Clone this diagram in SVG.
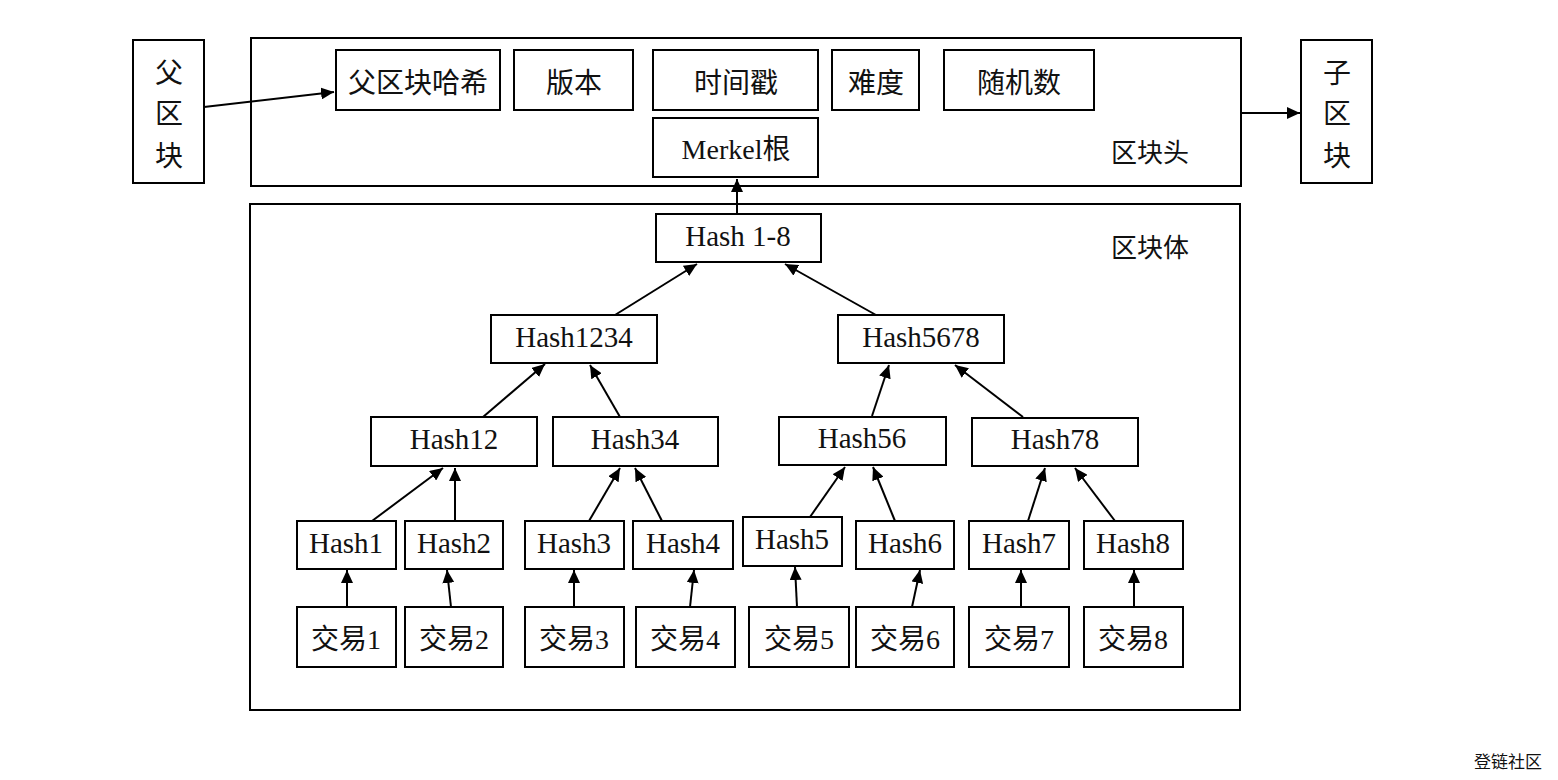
<svg xmlns="http://www.w3.org/2000/svg" width="1558" height="780" viewBox="0 0 1558 780">
<style>
rect{fill:#fff;stroke:#000;stroke-width:2}
text{font-family:"Liberation Serif","Noto Sans CJK SC",serif;font-size:28px;fill:#111;text-anchor:middle;dominant-baseline:central}
.h{font-size:29px}
.lbl{font-size:26px}
.wm{font-size:17px;font-family:"Noto Sans CJK SC",sans-serif}
#connectors line{stroke:#000;stroke-width:2;marker-end:url(#ah)}
</style>
<defs>
<marker id="ah" markerUnits="userSpaceOnUse" markerWidth="14" markerHeight="12" refX="13" refY="6" orient="auto">
<path d="M0,0 L13,6 L0,12 Z" fill="#000"/>
</marker>
</defs>
<rect x="0" y="0" width="1558" height="780" style="stroke:none;fill:#fff"/>
<g id="header"><rect x="251" y="38" width="990" height="148"/><text class="lbl" x="1150" y="153">区块头</text></g>
<g id="body"><rect x="250" y="204" width="990" height="506"/><text class="lbl" x="1150" y="248">区块体</text></g>
<g id="parent"><rect x="133" y="40" width="71" height="143"/><text x="169" y="73">父</text><text x="169" y="114">区</text><text x="169" y="156">块</text></g>
<g id="child"><rect x="1301" y="40" width="71" height="143"/><text x="1337" y="73">子</text><text x="1337" y="114">区</text><text x="1337" y="156">块</text></g>
<g id="prevhash"><rect x="336" y="50" width="164" height="60"/><text x="418" y="83">父区块哈希</text></g>
<g id="version"><rect x="514" y="50" width="119" height="60"/><text x="574" y="83">版本</text></g>
<g id="timestamp"><rect x="653" y="50" width="165" height="60"/><text x="736" y="83">时间戳</text></g>
<g id="difficulty"><rect x="832" y="50" width="87" height="60"/><text x="876" y="83">难度</text></g>
<g id="nonce"><rect x="944" y="50" width="150" height="60"/><text x="1019" y="83">随机数</text></g>
<g id="merkle"><rect x="653" y="118" width="165" height="59"/><text x="736" y="149">Merkel根</text></g>
<g id="h18"><rect x="656" y="214" width="165" height="48"/><text class="h" x="738" y="236">Hash 1-8</text></g>
<g id="h1234"><rect x="491" y="315" width="166" height="48"/><text class="h" x="574" y="337">Hash1234</text></g>
<g id="h5678"><rect x="838" y="315" width="166" height="48"/><text class="h" x="921" y="337">Hash5678</text></g>
<g id="h12"><rect x="371" y="417" width="166" height="49"/><text class="h" x="454" y="439">Hash12</text></g>
<g id="h34"><rect x="553" y="417" width="165" height="49"/><text class="h" x="635" y="439">Hash34</text></g>
<g id="h56"><rect x="779" y="417" width="167" height="48"/><text class="h" x="862" y="438">Hash56</text></g>
<g id="h78"><rect x="972" y="418" width="166" height="48"/><text class="h" x="1055" y="439">Hash78</text></g>
<g id="h1"><rect x="297" y="521" width="99" height="48"/><text class="h" x="346" y="543">Hash1</text></g>
<g id="h2"><rect x="405" y="521" width="98" height="48"/><text class="h" x="454" y="543">Hash2</text></g>
<g id="h3"><rect x="525" y="521" width="99" height="48"/><text class="h" x="574" y="543">Hash3</text></g>
<g id="h4"><rect x="633" y="521" width="100" height="48"/><text class="h" x="683" y="543">Hash4</text></g>
<g id="h5"><rect x="743" y="517" width="99" height="49"/><text class="h" x="792" y="539">Hash5</text></g>
<g id="h6"><rect x="856" y="521" width="98" height="48"/><text class="h" x="905" y="543">Hash6</text></g>
<g id="h7"><rect x="969" y="521" width="100" height="48"/><text class="h" x="1019" y="543">Hash7</text></g>
<g id="h8"><rect x="1084" y="521" width="99" height="48"/><text class="h" x="1133" y="543">Hash8</text></g>
<g id="t1"><rect x="297" y="607" width="99" height="60"/><text x="346" y="639">交易1</text></g>
<g id="t2"><rect x="405" y="607" width="98" height="60"/><text x="454" y="639">交易2</text></g>
<g id="t3"><rect x="525" y="607" width="99" height="60"/><text x="574" y="639">交易3</text></g>
<g id="t4"><rect x="636" y="607" width="99" height="60"/><text x="685" y="639">交易4</text></g>
<g id="t5"><rect x="749" y="607" width="100" height="60"/><text x="799" y="639">交易5</text></g>
<g id="t6"><rect x="856" y="607" width="98" height="60"/><text x="905" y="639">交易6</text></g>
<g id="t7"><rect x="969" y="607" width="100" height="60"/><text x="1019" y="639">交易7</text></g>
<g id="t8"><rect x="1084" y="607" width="99" height="60"/><text x="1133" y="639">交易8</text></g>
<g id="connectors">
<line x1="204" y1="107" x2="334" y2="92"/>
<line x1="1241" y1="113" x2="1300" y2="113"/>
<line x1="737" y1="213" x2="737" y2="179"/>
<line x1="615" y1="315" x2="697" y2="264"/>
<line x1="876" y1="315" x2="785" y2="264"/>
<line x1="483" y1="417" x2="545" y2="364"/>
<line x1="620" y1="417" x2="590" y2="365"/>
<line x1="872" y1="416" x2="889" y2="365"/>
<line x1="1023" y1="417" x2="955" y2="365"/>
<line x1="372" y1="521" x2="443" y2="468"/>
<line x1="455" y1="521" x2="455" y2="468"/>
<line x1="589" y1="521" x2="620" y2="468"/>
<line x1="662" y1="521" x2="635" y2="468"/>
<line x1="810" y1="517" x2="845" y2="467"/>
<line x1="895" y1="521" x2="873" y2="467"/>
<line x1="1028" y1="521" x2="1045" y2="468"/>
<line x1="1115" y1="521" x2="1075" y2="468"/>
<line x1="347" y1="607" x2="347" y2="570"/>
<line x1="451" y1="607" x2="447" y2="570"/>
<line x1="574" y1="607" x2="574" y2="570"/>
<line x1="690" y1="607" x2="694" y2="570"/>
<line x1="797" y1="607" x2="795" y2="567"/>
<line x1="912" y1="607" x2="920" y2="570"/>
<line x1="1021" y1="607" x2="1021" y2="570"/>
<line x1="1134" y1="607" x2="1134" y2="570"/>
</g>
<text class="wm" x="1508" y="760">登链社区</text>
</svg>
